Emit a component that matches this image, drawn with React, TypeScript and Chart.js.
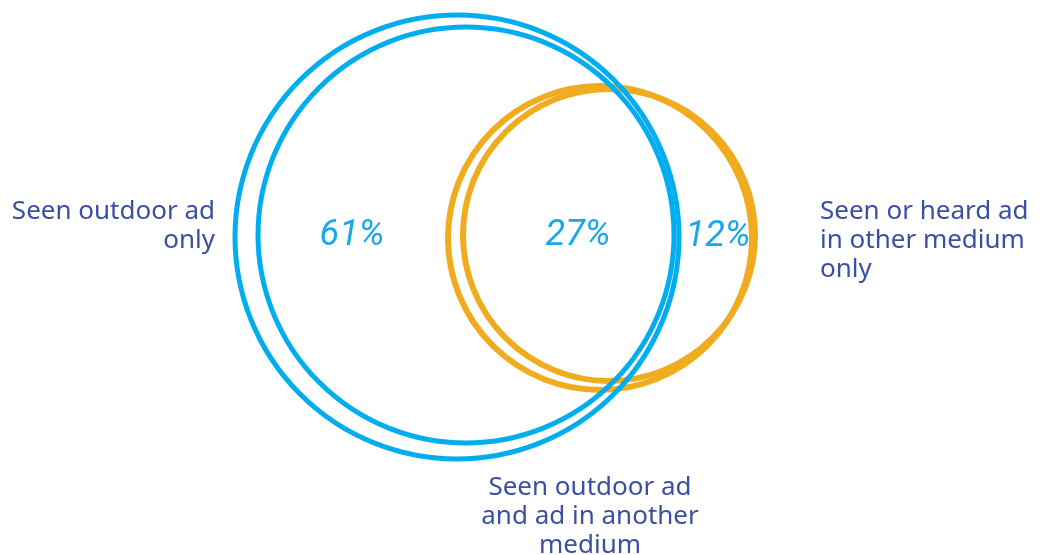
import React, { useEffect, useRef } from "react";
import { Chart, registerables } from "chart.js";

Chart.register(...registerables);

// Venn geometry (diagram units): each set is drawn as a doubled, hand-drawn style ring
const circleNames = ["Outdoor ad (outer)", "Outdoor ad (inner)", "Other medium (outer)", "Other medium (inner)"];
const circleCenterX = [457, 466, 600, 609];
const circleCenterY = [237, 235, 238, 235];
const circleRadius = [222, 208, 152, 146];
const circleColors = ["#00AEEF", "#00AEEF", "#F0AC1F", "#F0AC1F"];
const circleWidths = [5, 5, 6, 6];

// Region shares
const shareLabels = ["61%", "27%", "12%"];
const shareX = [352, 578, 718];
const shareY = [236, 236, 237];

// Category labels
const groupLabels = [
  ["Seen outdoor ad", "only"],
  ["Seen or heard ad", "in other medium", "only"],
  ["Seen outdoor ad", "and ad in another", "medium"],
];
const groupX = [215, 820, 590];
const groupY = [212, 212, 488];
const groupAlign: CanvasTextAlign[] = ["right", "left", "center"];

const LINE_H = 29;

const ringPlugin = {
  id: "vennRings",
  afterDatasetsDraw(chart: any) {
    const { ctx, scales } = chart;
    const xs = scales.x;
    const ys = scales.y;
    ctx.save();
    chart.data.datasets.forEach((ds: any) => {
      const p = ds.data[0];
      const cx = xs.getPixelForValue(p.x);
      const cy = ys.getPixelForValue(p.y);
      const r = Math.abs(xs.getPixelForValue(p.size) - xs.getPixelForValue(0));
      ctx.beginPath();
      ctx.arc(cx, cy, r, 0, Math.PI * 2);
      ctx.strokeStyle = ds.ringColor;
      ctx.lineWidth = ds.ringWidth;
      ctx.stroke();
    });
    ctx.restore();
  },
};

const textPlugin = {
  id: "vennText",
  afterDatasetsDraw(chart: any) {
    const { ctx, scales } = chart;
    const xs = scales.x;
    const ys = scales.y;
    ctx.save();
    ctx.fillStyle = "#1AA7E8";
    ctx.font = "italic 36px Roboto, sans-serif";
    ctx.textAlign = "center";
    ctx.textBaseline = "middle";
    shareLabels.forEach((t, i) => {
      ctx.fillText(t, xs.getPixelForValue(shareX[i]), ys.getPixelForValue(shareY[i]));
    });
    ctx.fillStyle = "#3B4FA3";
    ctx.font = "26px 'Noto Sans', sans-serif";
    groupLabels.forEach((lines, i) => {
      ctx.textAlign = groupAlign[i];
      lines.forEach((line, j) => {
        ctx.fillText(line, xs.getPixelForValue(groupX[i]), ys.getPixelForValue(groupY[i]) + j * LINE_H);
      });
    });
    ctx.restore();
  },
};

export default function App() {
  const ref = useRef<HTMLCanvasElement | null>(null);
  useEffect(() => {
    document.body.style.margin = "0";
    if (!ref.current) return;
    const order = [2, 3, 0, 1];
    const chart = new Chart(ref.current, {
      type: "scatter",
      data: {
        datasets: order.map((i) => ({
          label: circleNames[i],
          data: [{ x: circleCenterX[i], y: circleCenterY[i], size: circleRadius[i] } as any],
          pointRadius: 0,
          ringColor: circleColors[i],
          ringWidth: circleWidths[i],
        })) as any,
      },
      options: {
        animation: false,
        responsive: false,
        events: [],
        layout: { padding: 0 },
        plugins: { legend: { display: false }, tooltip: { enabled: false } },
        scales: {
          x: { type: "linear", min: 0, max: 1040, display: false },
          y: { type: "linear", min: 0, max: 555, reverse: true, display: false },
        },
      },
      plugins: [ringPlugin, textPlugin],
    });
    return () => chart.destroy();
  }, []);
  return (
    <div style={{ width: 1040, height: 555 }}>
      <canvas ref={ref} width={1040} height={555} style={{ display: "block" }} />
    </div>
  );
}
